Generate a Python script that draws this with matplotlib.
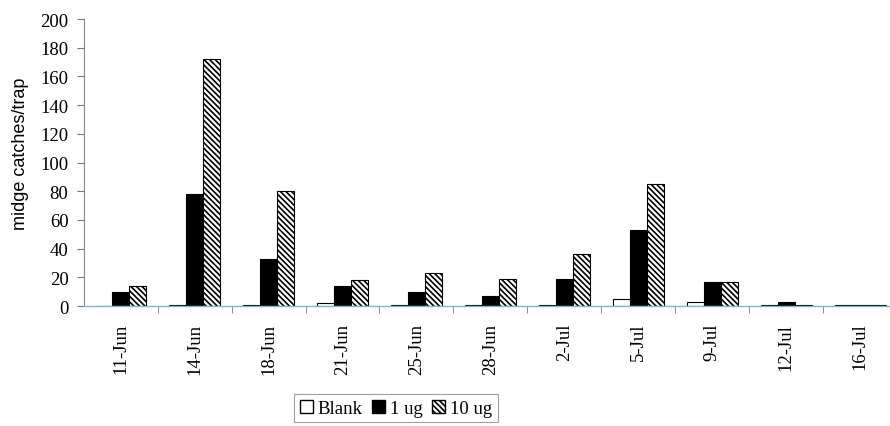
import matplotlib
matplotlib.use("Agg")
import matplotlib.pyplot as plt
import numpy as np
from matplotlib.patches import Patch

plt.rcParams["font.family"] = ["Liberation Serif", "DejaVu Serif"]
plt.rcParams["hatch.linewidth"] = 1.2

dates = ["11-Jun", "14-Jun", "18-Jun", "21-Jun", "25-Jun", "28-Jun",
         "2-Jul", "5-Jul", "9-Jul", "12-Jul", "16-Jul"]
blank = [0, 0.5, 0.5, 2, 0.5, 0.5, 0.5, 5, 3, 0.5, 0.5]
ug1 = [10, 78, 33, 14, 10, 7, 19, 53, 17, 3, 0.5]
ug10 = [14, 172, 80, 18, 23, 19, 36, 85, 17, 0.5, 0.5]

fig = plt.figure(figsize=(8.9, 4.27), dpi=100)
ax = fig.add_axes([0.094, 0.281, 0.914, 0.672])

x = np.arange(len(dates))
w = 0.23
hatch = "\\" * 6
ax.bar(x - w, blank, w, color="white", edgecolor="black", linewidth=0.8)
ax.bar(x, ug1, w, color="black", edgecolor="black", linewidth=0.8)
ax.bar(x + w, ug10, w, color="white", edgecolor="black", hatch=hatch, linewidth=0.8)

ax.set_xlim(-0.5, len(dates) - 0.5)
ax.set_ylim(0, 200)
ax.set_yticks(range(0, 201, 20))
ax.set_xticks(x)
ax.set_xticklabels(dates, rotation=90, fontsize=13.5)
ax.set_xticks(np.arange(len(dates)) + 0.5, minor=True)
ax.tick_params(axis="x", which="major", length=0, pad=12)
ax.tick_params(axis="x", which="minor", length=5, color="#777777", direction="out")
ax.tick_params(axis="y", length=5, color="#777777", labelsize=13.5, pad=6)
ax.set_ylabel("midge catches/trap", fontsize=13, family=["Liberation Sans", "DejaVu Sans"])
ax.yaxis.set_label_coords(-0.067, 0.535)

for s in ["top", "right"]:
    ax.spines[s].set_visible(False)
ax.spines["left"].set_color("#888888")
ax.spines["left"].set_linewidth(0.8)
ax.spines["bottom"].set_color("#7fb8c8")
ax.spines["bottom"].set_linewidth(1.0)

handles = [Patch(facecolor="white", edgecolor="black", label="Blank"),
           Patch(facecolor="black", edgecolor="black", label="1 ug"),
           Patch(facecolor="white", edgecolor="black", hatch=hatch, label="10 ug")]
leg = fig.legend(handles=handles, loc="upper center", bbox_to_anchor=(0.445, 0.075), ncol=3,
                 prop={"size": 13.5}, frameon=True,
                 fancybox=False, edgecolor="#888888", handlelength=0.7, handleheight=0.7,
                 handletextpad=0.25, columnspacing=0.5, borderpad=0.3, borderaxespad=0)
leg.get_frame().set_linewidth(0.8)

fig.savefig("out.png", dpi=100, facecolor="white")
